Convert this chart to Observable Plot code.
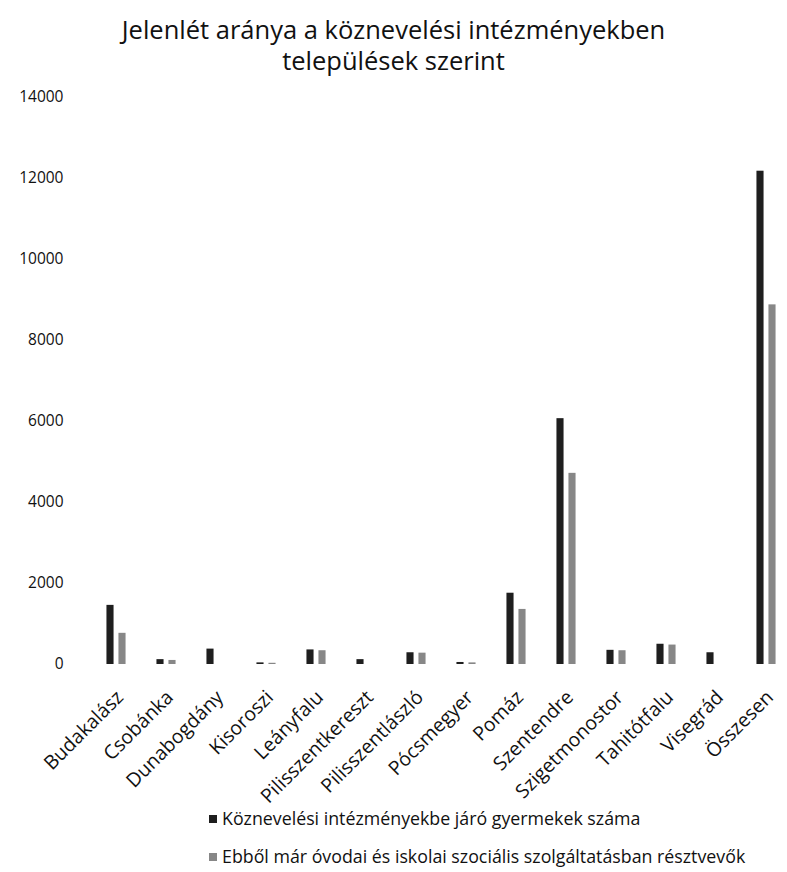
<!DOCTYPE html>
<html><head><meta charset="utf-8">
<script src="https://cdn.jsdelivr.net/npm/d3@7"></script>
<script src="https://cdn.jsdelivr.net/npm/@observablehq/plot@0.6"></script>
<style>
body{margin:0;background:#fff;font-family:"Open Sans",sans-serif;color:#111;}
#wrap{position:relative;width:787px;height:872px;overflow:hidden;}
#title{position:absolute;left:0;width:787px;top:14px;text-align:center;font-size:25.5px;line-height:31px;color:#111;}
#chart{position:absolute;left:0;top:80px;}
#legend{position:absolute;left:209px;top:799px;font-size:17.8px;line-height:38px;color:#111;}
.sw{display:inline-block;width:8px;height:8px;margin-right:5px;vertical-align:2px;}
</style></head><body>
<div id="wrap">
  <div id="title">Jelenlét aránya a köznevelési intézményekben<br>települések szerint</div>
  <div id="chart"></div>
  <div id="legend"></div>
</div>
<script>
const categories = ["Budakalász","Csobánka","Dunabogdány","Kisoroszi","Leányfalu","Pilisszentkereszt","Pilisszentlászló","Pócsmegyer","Pomáz","Szentendre","Szigetmonostor","Tahitótfalu","Visegrád","Összesen"];
const children = [1460,120,380,40,360,120,290,50,1760,6070,350,500,290,12180];
const participants = [770,100,null,30,340,null,280,40,1360,4720,340,480,null,8880];
const seriesNames = ["Köznevelési intézményekbe járó gyermekek száma","Ebből már óvodai és iskolai szociális szolgáltatásban résztvevők"];
const seriesColors = ["#1e1e1e","#878787"];
const yTicks = [0,2000,4000,6000,8000,10000,12000,14000];

const rows1 = categories.map((c,i)=>({cat:c, value:children[i]})).filter(d=>d.value!=null);
const rows2 = categories.map((c,i)=>({cat:c, value:participants[i]})).filter(d=>d.value!=null);

const inset = 21.45;
const chart = Plot.plot({
  width: 787, height: 714,
  marginTop: 17, marginBottom: 130, marginLeft: 70, marginRight: 0,
  style: {fontFamily:"'Open Sans', sans-serif", fontSize:"15.5px", color:"#111", background:"transparent", overflow:"visible"},
  x: {domain: categories, range: [84.5, 797.5], padding: 0, axis: null},
  y: {domain: [0,14000], ticks: yTicks, tickSize: 0, tickPadding: 7, label: null, tickFormat: d=>String(d)},
  marks: [
    Plot.barY(rows1, {x:"cat", y:"value", fill: seriesColors[0], insetLeft: inset, insetRight: inset, dx: -6}),
    Plot.barY(rows2, {x:"cat", y:"value", fill: seriesColors[1], insetLeft: inset, insetRight: inset, dx: 6}),
    Plot.text(categories, {x: d=>d, frameAnchor: "bottom", dy: 34, dx: 8, rotate: -45, textAnchor: "end", fontSize: 19.5, fill: "#111"})
  ]
});
document.getElementById("chart").appendChild(chart);

const leg = document.getElementById("legend");
seriesNames.forEach((n,i)=>{
  const row = document.createElement("div");
  const sw = document.createElement("span");
  sw.className = "sw"; sw.style.background = seriesColors[i];
  row.appendChild(sw);
  row.appendChild(document.createTextNode(n));
  leg.appendChild(row);
});
</script>
</body></html>
